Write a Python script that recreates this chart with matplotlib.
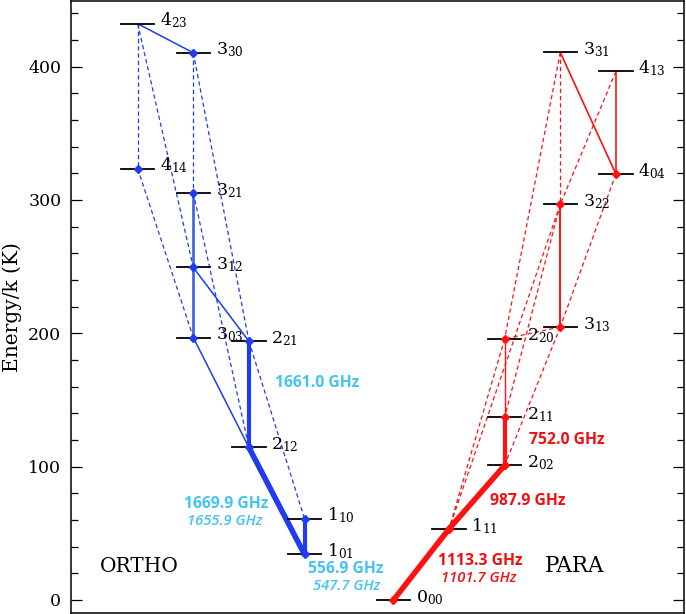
import matplotlib
matplotlib.use('Agg')
import matplotlib.pyplot as plt
from matplotlib.ticker import MultipleLocator, NullLocator

# ---------------- data ----------------
ortho_levels = ['1_01', '1_10', '2_12', '2_21', '3_03', '3_12', '3_21', '4_14', '3_30', '4_23']
ortho_E = [34.2, 61.0, 114.4, 194.1, 196.8, 249.4, 305.3, 323.5, 410.4, 432.2]
ortho_marker = [True, True, True, True, True, True, True, True, True, False]

para_levels = ['0_00', '1_11', '2_02', '2_11', '2_20', '3_13', '3_22', '4_04', '3_31', '4_13']
para_E = [0.0, 53.4, 101.0, 137.0, 195.9, 204.7, 296.8, 319.5, 410.7, 396.4]
para_marker = [True, True, True, True, True, True, True, True, False, False]

ortho_thick = [('2_21', '2_12'), ('2_12', '1_01'), ('1_10', '1_01')]
ortho_thick_w = [3.0, 4.0, 3.0]
ortho_solid = [('4_23', '3_30'), ('3_12', '2_21'), ('3_03', '2_12')]
ortho_medium = [('3_21', '3_12'), ('3_12', '3_03')]
ortho_dashed = [('4_23', '4_14'), ('4_23', '3_12'), ('3_30', '3_21'), ('3_30', '2_21'),
                ('4_14', '3_03'), ('3_21', '2_12'), ('2_21', '1_10')]

para_thick = [('1_11', '0_00'), ('2_02', '1_11'), ('2_11', '2_02')]
para_thick_w = [4.0, 4.0, 3.0]
para_solid = [('2_20', '2_11'), ('3_22', '3_13'), ('4_13', '4_04'), ('3_31', '4_04')]
para_solid_w = [1.0, 1.4, 1.2, 1.2]
para_dashed = [('3_31', '3_22'), ('3_31', '2_20'), ('4_13', '3_22'), ('4_04', '3_13'),
               ('3_22', '2_11'), ('3_22', '1_11'), ('3_13', '2_02'), ('3_13', '2_20'),
               ('2_20', '1_11')]

ortho_freq = ['1661.0 GHz', '1669.9 GHz', '1655.9 GHz', '556.9 GHz', '547.7 GHz']
ortho_freq_italic = [False, False, True, False, True]
para_freq = ['752.0 GHz', '987.9 GHz', '1113.3 GHz', '1101.7 GHz']
para_freq_italic = [False, False, False, True]

yticks = [0, 100, 200, 300, 400]

# ---------------- style ----------------
BLUE = '#1f3cf0'
BLUE_MED = '#3f5fe0'
RED = '#ff1111'
CYAN = '#45c3f0'
RED_TXT = '#ee1111'
HALF = 0.3

plt.rcParams['font.family'] = ['DejaVu Serif']
plt.rcParams['mathtext.fontset'] = 'dejavuserif'

fig = plt.figure(figsize=(6.86, 6.14), dpi=100)
ax = fig.add_axes([71 / 686, 1 / 614, 613 / 686, 612 / 614])


def col(name, ortho):
    J = int(name[0])
    return 5.2 - J if ortho else 5.8 + J


pos = {}
for n, e in zip(ortho_levels, ortho_E):
    pos[('o', n)] = (col(n, True), e)
for n, e in zip(para_levels, para_E):
    pos[('p', n)] = (col(n, False), e)


def seg(kind, a, b, **kw):
    xa, ya = pos[(kind, a)]
    xb, yb = pos[(kind, b)]
    ax.plot([xa, xb], [ya, yb], solid_capstyle='butt', **kw)


dash = (0, (3.4, 2.4))
for a, b in ortho_dashed:
    seg('o', a, b, color=BLUE, lw=0.9, ls=dash, zorder=1)
for a, b in ortho_solid:
    seg('o', a, b, color=BLUE, lw=1.1, zorder=2)
for a, b in ortho_medium:
    seg('o', a, b, color=BLUE_MED, lw=1.9, zorder=2)
for (a, b), w in zip(ortho_thick, ortho_thick_w):
    seg('o', a, b, color=BLUE, lw=w, zorder=2)

for a, b in para_dashed:
    seg('p', a, b, color=RED, lw=0.9, ls=dash, zorder=1)
for (a, b), w in zip(para_solid, para_solid_w):
    seg('p', a, b, color=RED, lw=w, zorder=2)
for (a, b), w in zip(para_thick, para_thick_w):
    seg('p', a, b, color=RED, lw=w, zorder=2)

# level bars, markers, labels
for kind, names, Es, marks, c in [('o', ortho_levels, ortho_E, ortho_marker, BLUE),
                                  ('p', para_levels, para_E, para_marker, RED)]:
    for n, e, m in zip(names, Es, marks):
        x = pos[(kind, n)][0]
        ax.plot([x - HALF, x + HALF], [e, e], color='k', lw=1.3, zorder=3)
        if m:
            ax.plot(x, e, 'D', ms=4.5, color=c, mec=c, zorder=4)
        main, sub = n.split('_')
        ax.text(x + HALF + 0.1, e - 1.5, r'$\mathregular{%s_{%s}}$' % (main, sub),
                fontsize=12.5, ha='left', va='baseline', zorder=5)

# frequency labels
ortho_fpos = [(4.42, 162.8), (2.79, 72.0), (2.76, 59.3), (4.95, 23.6), (4.96, 10.8)]
para_fpos = [(8.92, 120.0), (8.22, 74.3), (7.37, 29.3), (7.34, 16.5)]
for t, it, (x, y) in zip(ortho_freq, ortho_freq_italic, ortho_fpos):
    ax.text(x, y, t, color=CYAN, fontsize=10.6 if it else 11.3, family='Open Sans',
            fontweight=600 if it else 'bold', style='italic' if it else 'normal',
            ha='center', va='center')
for t, it, (x, y) in zip(para_freq, para_freq_italic, para_fpos):
    ax.text(x, y, t, color=RED_TXT, fontsize=10.6 if it else 11.3, family='Open Sans',
            fontweight=600 if it else 'bold', style='italic' if it else 'normal',
            ha='center', va='center')

ax.text(0.52, 25.5, 'ORTHO', fontsize=14.5, ha='left', va='center')
ax.text(8.52, 25.5, 'PARA', fontsize=15.5, ha='left', va='center')

ax.set_xlim(0, 613 / 55.6)
ax.set_ylim(-9.75, 449.25)
ax.xaxis.set_major_locator(NullLocator())
ax.set_yticks(yticks)
ax.yaxis.set_minor_locator(MultipleLocator(20))
ax.tick_params(axis='y', which='both', direction='in', left=True, right=True,
               labelsize=12.5, pad=7)
ax.tick_params(axis='y', which='major', length=8, width=0.9)
ax.tick_params(axis='y', which='minor', length=5, width=0.9)
for s in ax.spines.values():
    s.set_linewidth(1.1)
ax.set_ylabel('Energy/k (K)', fontsize=14.5)
ax.yaxis.set_label_coords(-0.08, 0.5)

fig.savefig('out.png', dpi=100)
